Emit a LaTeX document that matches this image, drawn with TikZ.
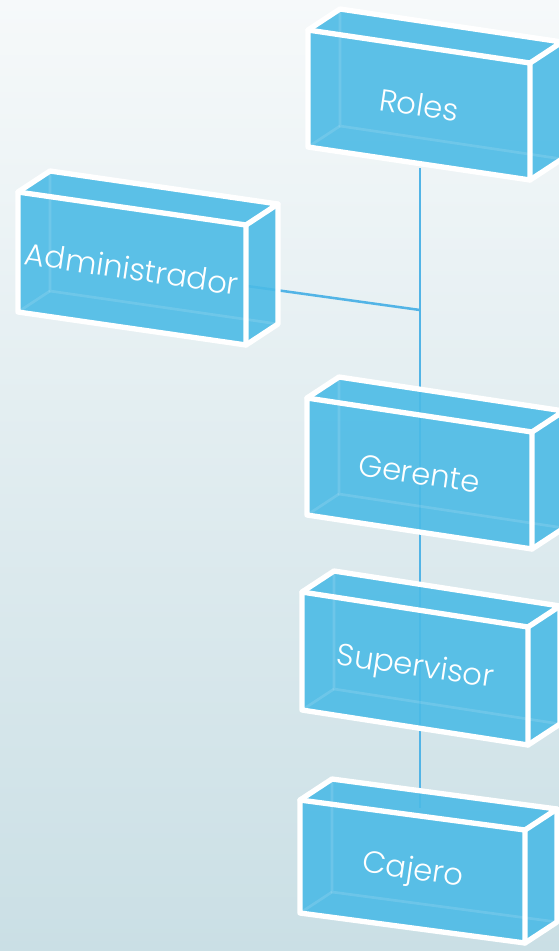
\documentclass[tikz,border=0pt]{standalone}
\usepackage{fontspec}
\setmainfont{Poppins}[UprightFont={* Light}]
\definecolor{bgtop}{HTML}{F6F9FA}
\definecolor{bgbot}{HTML}{CADFE5}
\definecolor{boxblue}{HTML}{4CBBE6}
\definecolor{linkblue}{HTML}{52B4E6}
\tikzset{
  boxfill/.style={fill=boxblue,fill opacity=0.9},
  edge/.style={draw=white,line width=4pt,line join=round,line cap=round},
  inneredge/.style={draw=white,line width=2pt,opacity=0.12},
  lbl/.style={text=white,font=\fontsize{23}{27}\selectfont,rotate=-8.4,inner sep=0pt},
  link/.style={draw=linkblue,line width=1.9pt}
}
\newcommand\cuboid[7]{%
  \fill[boxfill] (#2,#3) -- ++(32,-21) -- ++(#4,#5) -- ++(0,#6) -- ++(-32,21) -- ++(-#4,-#5) -- cycle;
  \draw[inneredge] (#2+32,#3-21) -- ++(0,#6) -- ++(#4,#5);
  \draw[inneredge] (#2,#3+#6) -- ++(32,-21);
  \draw[edge] (#2,#3) -- ++(#4,#5) -- ++(0,#6) -- ++(-#4,-#5) -- cycle;
  \draw[edge] (#2,#3) -- ++(32,-21) -- ++(#4,#5) -- ++(-32,21);
  \draw[edge] (#2+#4+32,#3+#5-21) -- ++(0,#6) -- ++(-32,21);
  \node[lbl] (#1) at (#2+#4/2,#3+#5/2+#6/2) {#7};
}
\begin{document}
\begin{tikzpicture}[x=0.75pt,y=-0.75pt]
\useasboundingbox (0,0) rectangle (559,951);
\clip (0,0) rectangle (559,951);
\shade[top color=bgtop,bottom color=bgbot] (0,0) rectangle (559,951);
\coordinate (rolesout) at (420,168);
\coordinate (cajin) at (420,808);
\coordinate (adminout) at (247,286);
\coordinate (junction) at (420,310);
\draw[link] (rolesout) -- (cajin);
\draw[link] (adminout) -- (junction);
\cuboid{roles}{308}{30}{222}{33}{117}{Roles}
\cuboid{admin}{18}{192}{228}{33}{120}{Administrador}
\cuboid{gerente}{307}{398}{225}{34}{117}{Gerente}
\cuboid{supervisor}{302}{592}{226}{35}{118}{Supervisor}
\cuboid{cajero}{300}{800}{225}{30}{113}{Cajero}
\end{tikzpicture}
\end{document}
